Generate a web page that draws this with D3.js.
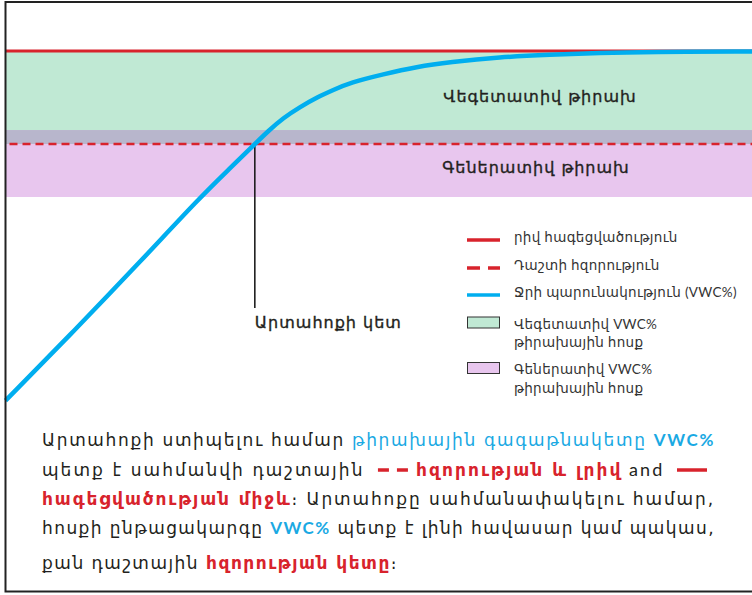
<!DOCTYPE html>
<html>
<head>
<meta charset="utf-8">
<script src="https://cdn.jsdelivr.net/npm/d3@7"></script>
<style>
  body { margin: 0; background: #fff; }
  svg { display: block; }
</style>
</head>
<body>
<svg id="chart"></svg>
<script>
// values (time is arbitrary units, VWC in %)
const timeValues = [0, 9.3, 18, 26.1, 30.1, 33.4, 35.2, 37.2, 39.5, 41.7, 43.9, 46.2, 50.6, 55.1, 59.5, 66.2, 72.9, 79.6, 86.3, 100];
const vwcValues  = [12.4, 20, 27.3, 34.3, 37.4, 40, 41.4, 42.8, 44, 45, 45.8, 46.6, 47.5, 48.3, 48.8, 49.35, 49.6, 49.8, 49.9, 49.95];

const saturation = 50;
const fieldCapacity = 40;
const setPointTime = 33.4;
const vegetativeRange = [40, 50];
const generativeRange = [34.3, 41.5];

const bandLabels = ['Վեգետատիվ թիրախ', 'Գեներատիվ թիրախ'];
const setPointLabel = 'Արտահոքի կետ';

const legendLabels = [
  ['րիվ հագեցվածություն'],
  ['Դաշտի հզորություն'],
  ['Ջրի պարունակություն (VWC%)'],
  ['Վեգետատիվ VWC%', 'թիրախային հոսք'],
  ['Գեներատիվ VWC%', 'թիրախային հոսք']
];
const legendKinds = ['solid', 'dash', 'curve', 'veg', 'gen'];

// paragraph under the chart: [text, style]; the last line is not justified
const noteLines = [
  [['Արտահոքի ստիպելու համար ', 'txt'], ['թիրախային գագաթնակետը ', 'blue'], ['VWC%', 'blueLatin']],
  [['պետք է սահմանվի դաշտային ', 'txt'], ['', 'dashSym'], ['հզորության և լրիվ', 'red'], [' and ', 'latin'], ['', 'solidSym']],
  [['հագեցվածության միջև', 'red'], ['։ Արտահոքը սահմանափակելու համար,', 'txt']],
  [['հոսքի ընթացակարգը ', 'txt'], ['VWC%', 'blueLatin'], [' պետք է լինի հավասար կամ պակաս,', 'txt']],
  [['քան դաշտային ', 'txt'], ['հզորության կետը', 'red'], ['։', 'txt']]
];
const noteBaselines = [446, 476, 505, 534, 569];

const colors = {
  red: '#d8232c',
  blue: '#00aeef',
  veg: '#c0e9d4',
  gen: '#e8c6ee',
  overlap: '#b8b6cc',
  text: '#231f20'
};

const width = 752, height = 595;
const armenian = '"DejaVu Sans", sans-serif';
const latin = 'Lato, "DejaVu Sans", sans-serif';

const svg = d3.select('#chart')
    .attr('width', width)
    .attr('height', height);

const x = d3.scaleLinear().domain([0, 100]).range([5.5, 752]);
const y = d3.scaleLinear().domain([0, 50]).range([516, 51]);

const plot = svg.append('g');

// target bands
plot.append('rect')
    .attr('x', x(0)).attr('width', x(100) - x(0))
    .attr('y', y(vegetativeRange[1])).attr('height', y(vegetativeRange[0]) - y(vegetativeRange[1]))
    .attr('fill', colors.veg);

plot.append('rect')
    .attr('x', x(0)).attr('width', x(100) - x(0))
    .attr('y', y(generativeRange[1])).attr('height', y(generativeRange[0]) - y(generativeRange[1]))
    .attr('fill', colors.gen);

// where both bands overlap
const ovLow = Math.max(vegetativeRange[0], generativeRange[0]);
const ovHigh = Math.min(vegetativeRange[1], generativeRange[1]);
plot.append('rect')
    .attr('x', x(0)).attr('width', x(100) - x(0))
    .attr('y', y(ovHigh)).attr('height', y(ovLow) - y(ovHigh))
    .attr('fill', colors.overlap);

// saturation + field capacity
plot.append('line')
    .attr('x1', x(0)).attr('x2', x(100))
    .attr('y1', y(saturation)).attr('y2', y(saturation))
    .attr('stroke', colors.red).attr('stroke-width', 3);

plot.append('line')
    .attr('x1', x(0) + 4).attr('x2', x(100))
    .attr('y1', y(fieldCapacity)).attr('y2', y(fieldCapacity))
    .attr('stroke', colors.red).attr('stroke-width', 2.5)
    .attr('stroke-dasharray', '8,5');

// set point marker
plot.append('line')
    .attr('x1', x(setPointTime)).attr('x2', x(setPointTime))
    .attr('y1', y(fieldCapacity)).attr('y2', 308)
    .attr('stroke', '#111').attr('stroke-width', 1.5);

// medium-weight labels (DejaVu has no medium, so add a hairline stroke)
function label(sel, size) {
  return sel.style('font-family', armenian)
      .style('font-size', size + 'px')
      .style('letter-spacing', '1px')
      .attr('fill', colors.text)
      .attr('stroke', colors.text)
      .attr('stroke-width', 0.35);
}

label(plot.append('text')
    .attr('x', x(setPointTime)).attr('y', 328), 16)
    .text(setPointLabel);

// VWC curve
const pts = timeValues.map((t, i) => [t, vwcValues[i]]);
const line = d3.line()
    .x(d => x(d[0]))
    .y(d => y(d[1]))
    .curve(d3.curveBasis);

plot.append('path')
    .datum(pts)
    .attr('d', line)
    .attr('fill', 'none')
    .attr('stroke', colors.blue)
    .attr('stroke-width', 4.5);

// band labels
label(plot.append('text')
    .attr('x', 540).attr('y', 102)
    .attr('text-anchor', 'middle'), 16)
    .text(bandLabels[0]);

label(plot.append('text')
    .attr('x', 536).attr('y', 173)
    .attr('text-anchor', 'middle'), 16)
    .text(bandLabels[1]);

// legend
const legendRows = [240, 268, 295, 322.5, 368];
const legend = svg.append('g');
legendKinds.forEach((k, i) => {
  const cy = legendRows[i];
  if (k === 'solid' || k === 'dash' || k === 'curve') {
    legend.append('line')
        .attr('x1', 467).attr('x2', 500)
        .attr('y1', cy).attr('y2', cy)
        .attr('stroke', k === 'curve' ? colors.blue : colors.red)
        .attr('stroke-width', 3.5)
        .attr('stroke-dasharray', k === 'dash' ? '13,8' : null);
  } else {
    legend.append('rect')
        .attr('x', 467.5).attr('y', cy - 5.5)
        .attr('width', 32).attr('height', 11)
        .attr('fill', k === 'veg' ? colors.veg : colors.gen)
        .attr('stroke', '#333').attr('stroke-width', 1);
  }
  const lines = legendLabels[i];
  const t = legend.append('text')
      .attr('x', 514)
      .attr('y', lines.length === 1 ? cy + 2 : cy + 6)
      .style('font-family', latin).style('font-size', '13.5px')
      .style('letter-spacing', '0.3px')
      .attr('fill', '#333');
  lines.forEach((s, j) => {
    t.append('tspan')
        .attr('x', 514)
        .attr('dy', j === 0 ? 0 : 18.5)
        .text(s);
  });
});

// note paragraph
const note = svg.append('g');
const styleFor = {
  txt:       { fill: colors.text, family: armenian, weight: 'normal', size: 17 },
  blue:      { fill: '#1aa9e3', family: armenian, weight: 'normal', size: 17 },
  blueLatin: { fill: '#1aa9e3', family: latin, weight: 'bold', size: 17 },
  red:       { fill: colors.red, family: armenian, weight: 'bold', size: 17 },
  latin:     { fill: colors.text, family: latin, weight: 'normal', size: 18 }
};
const noteLeft = 42, noteRight = 715;

function layoutLine(g, segs, by, ls) {
  let cx = noteLeft, n = 0;
  segs.forEach(([s, kind]) => {
    if (kind === 'dashSym' || kind === 'solidSym') {
      cx += 6;
      g.append('line')
          .attr('x1', cx).attr('x2', cx + 30)
          .attr('y1', by - 6).attr('y2', by - 6)
          .attr('stroke', colors.red).attr('stroke-width', 3.5)
          .attr('stroke-dasharray', kind === 'dashSym' ? '11,8' : null);
      cx += 38;
      return;
    }
    const st = styleFor[kind];
    const t = g.append('text')
        .attr('x', cx).attr('y', by)
        .style('font-family', st.family)
        .style('font-size', st.size + 'px')
        .style('letter-spacing', ls + 'px')
        .style('font-weight', st.weight)
        .style('white-space', 'pre')
        .attr('fill', st.fill)
        .text(s);
    cx += t.node().getComputedTextLength();
    n += s.length;
  });
  return { end: cx, n: n };
}

noteLines.forEach((segs, li) => {
  const by = noteBaselines[li];
  let g = note.append('g');
  const first = layoutLine(g, segs, by, 1.5);
  if (li < noteLines.length - 1) {
    // justify to the right edge like the reference paragraph
    g.remove();
    g = note.append('g');
    layoutLine(g, segs, by, 1.5 + (noteRight - first.end) / first.n);
  }
});

// frame around everything
svg.append('rect')
    .attr('x', 5.5).attr('y', 2)
    .attr('width', 760).attr('height', 589.5)
    .attr('fill', 'none')
    .attr('stroke', '#222')
    .attr('stroke-width', 2);
</script>
</body>
</html>
